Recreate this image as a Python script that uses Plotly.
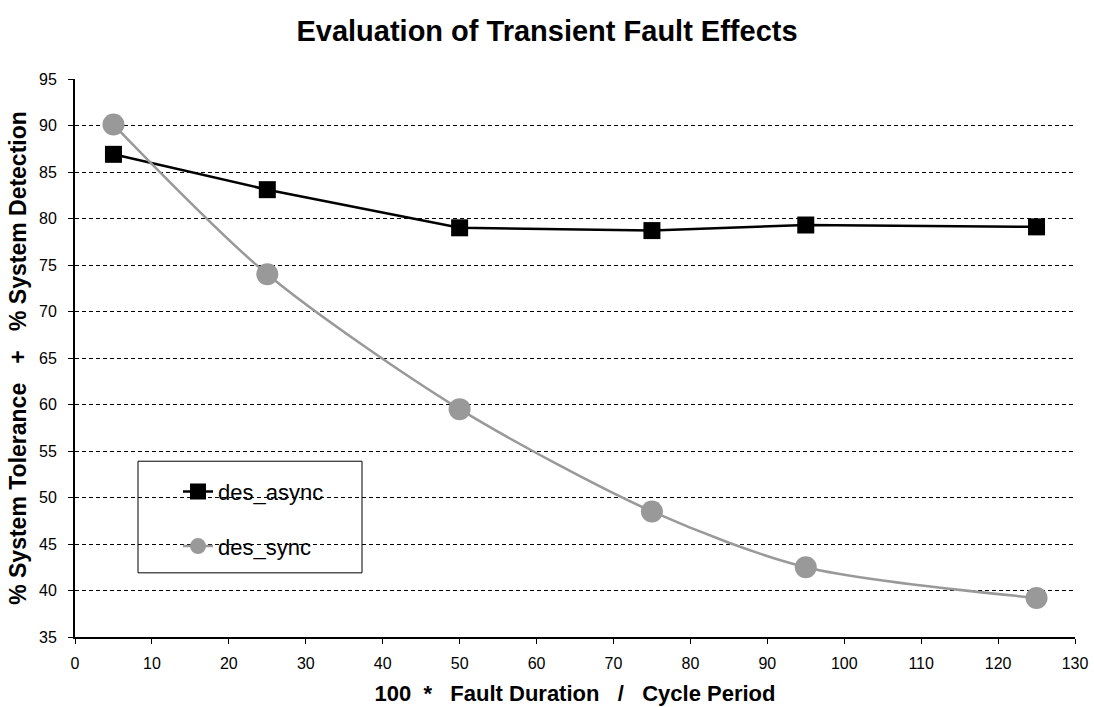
import plotly.graph_objects as go

# Fault duration as a percentage of the cycle period
duration = [5, 25, 50, 75, 95, 125]

# % system tolerance + % system detection per design
des_async = [86.9, 83.1, 79.0, 78.7, 79.3, 79.1]
des_sync = [90.1, 74.0, 59.5, 48.5, 42.5, 39.2]

x_ticks = list(range(0, 131, 10))
y_ticks = list(range(35, 96, 5))

FONT = "Liberation Sans, Arial, sans-serif"
GREY = "#999999"
NB = "\u00a0"

fig = go.Figure()

fig.add_trace(go.Scatter(
    x=duration, y=des_async, name="des_async", mode="lines+markers",
    line=dict(color="black", width=2.5),
    marker=dict(symbol="square", size=17, color="black"),
    legendgroup="a",
))
fig.add_trace(go.Scatter(
    x=duration, y=des_sync, name="des_sync", mode="lines+markers",
    line=dict(color=GREY, width=2.5, shape="spline", smoothing=0.8),
    marker=dict(symbol="circle", size=22, color=GREY),
    legendgroup="b",
))

# Framed legend box
fig.add_shape(type="rect", xref="paper", yref="paper",
              x0=0.063, x1=0.287, y0=0.115, y1=0.315,
              line=dict(color="black", width=1), fillcolor="white", layer="below")

x_title = f"<b>100 {NB}*{NB}{NB} Fault Duration {NB}{NB}/{NB}{NB} Cycle Period</b>"
y_title = f"<b>% System Tolerance {NB}{NB}+{NB}{NB} % System Detection</b>"

fig.update_layout(
    width=1094, height=707,
    margin=dict(l=75, r=19, t=79, b=70),
    paper_bgcolor="white", plot_bgcolor="white",
    font=dict(family=FONT, color="black", size=16),
    title=dict(text="<b>Evaluation of Transient Fault Effects</b>",
               x=0.5, xanchor="center", y=0.957, yanchor="middle",
               font=dict(size=29, family=FONT)),
    showlegend=True,
    legend=dict(x=0.103, y=0.298, xanchor="left", yanchor="top",
                bgcolor="rgba(0,0,0,0)", borderwidth=0,
                font=dict(size=22, family=FONT),
                tracegroupgap=23, traceorder="grouped"),
    xaxis=dict(
        range=[0, 130], tickvals=x_ticks, ticks="outside", ticklen=5,
        tickcolor="black", showline=True, linecolor="black", linewidth=2,
        showgrid=False, zeroline=False, automargin=False,
        tickfont=dict(size=16, family=FONT), ticklabelstandoff=6,
        title=dict(text=x_title, font=dict(size=22, family=FONT), standoff=14),
    ),
    yaxis=dict(
        range=[35, 95], tickvals=y_ticks, ticks="outside", ticklen=5,
        tickcolor="black", showline=True, linecolor="black", linewidth=2,
        showgrid=True, gridcolor="black", gridwidth=1, griddash="4px,3px",
        zeroline=False, automargin=False,
        tickfont=dict(size=16, family=FONT), ticklabelstandoff=8,
        title=dict(text=y_title, font=dict(size=23, family=FONT), standoff=6),
    ),
)

fig.write_html("out.html")
